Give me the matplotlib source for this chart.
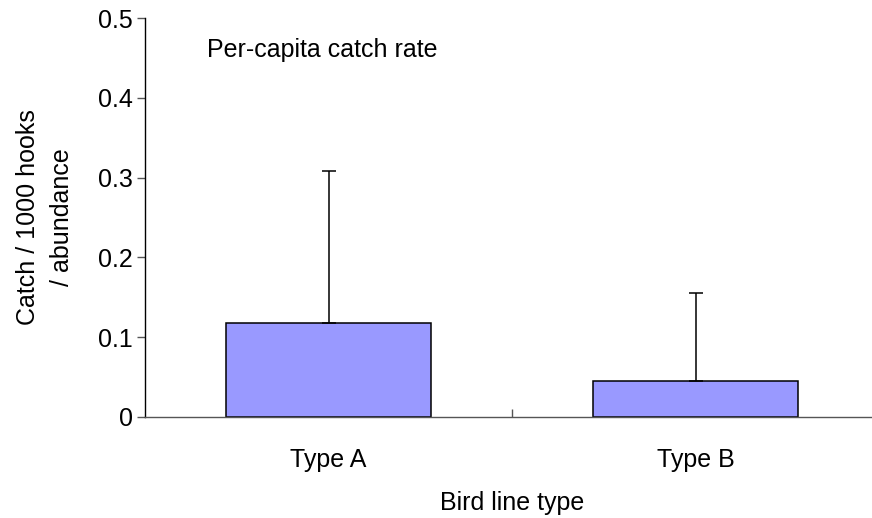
import matplotlib
matplotlib.use("Agg")
import matplotlib.pyplot as plt
from matplotlib.ticker import FixedLocator

plt.rcParams['font.family'] = ['Liberation Sans', 'DejaVu Sans']

# data
categories = ['Type A', 'Type B']
means = [0.118, 0.045]
upper_err = [0.190, 0.110]
yticks = [0, 0.1, 0.2, 0.3, 0.4, 0.5]
ytick_labels = ['0', '0.1', '0.2', '0.3', '0.4', '0.5']

fig = plt.figure(figsize=(8.72, 5.18), dpi=100)
ax = fig.add_axes([145/872, 1 - 417/518, 734/872, 399/518])

x = list(range(len(categories)))
ax.bar(x, means, width=0.56, color='#9999FF', edgecolor='black', linewidth=1.1, zorder=2)
ax.errorbar(x, means, yerr=[[0]*len(means), upper_err], fmt='none', ecolor='black',
            elinewidth=1.1, capsize=4.7, capthick=1.1, zorder=3)

ax.set_xlim(-0.5, 1.5)
ax.set_ylim(0, 0.5)
ax.set_yticks(yticks)
ax.set_yticklabels(ytick_labels)
ax.set_xticks(x)
ax.set_xticklabels(categories)
ax.xaxis.set_minor_locator(FixedLocator([0.5]))

ax.tick_params(axis='y', direction='out', length=6, width=1, color='#555555',
               labelsize=18, pad=3)
ax.tick_params(axis='x', which='major', length=0, labelsize=18, pad=22)
ax.tick_params(axis='x', which='minor', direction='in', length=6, width=1, color='#555555')

for s in ['top', 'right']:
    ax.spines[s].set_visible(False)
ax.spines['left'].set_linewidth(1)
ax.spines['bottom'].set_linewidth(1)
ax.spines['bottom'].set_color('#555555')

ax.set_xlabel('Bird line type', fontsize=18, labelpad=14)
ax.set_ylabel('Catch / 1000 hooks\n/ abundance', fontsize=18, labelpad=17, linespacing=1.55)

# label in pixel coords (from bottom-left of figure)
ax.text(207, 518 - 50, 'Per-capita catch rate', fontsize=18, transform=None,
        va='center', ha='left')

fig.savefig('out.png', dpi=100)
